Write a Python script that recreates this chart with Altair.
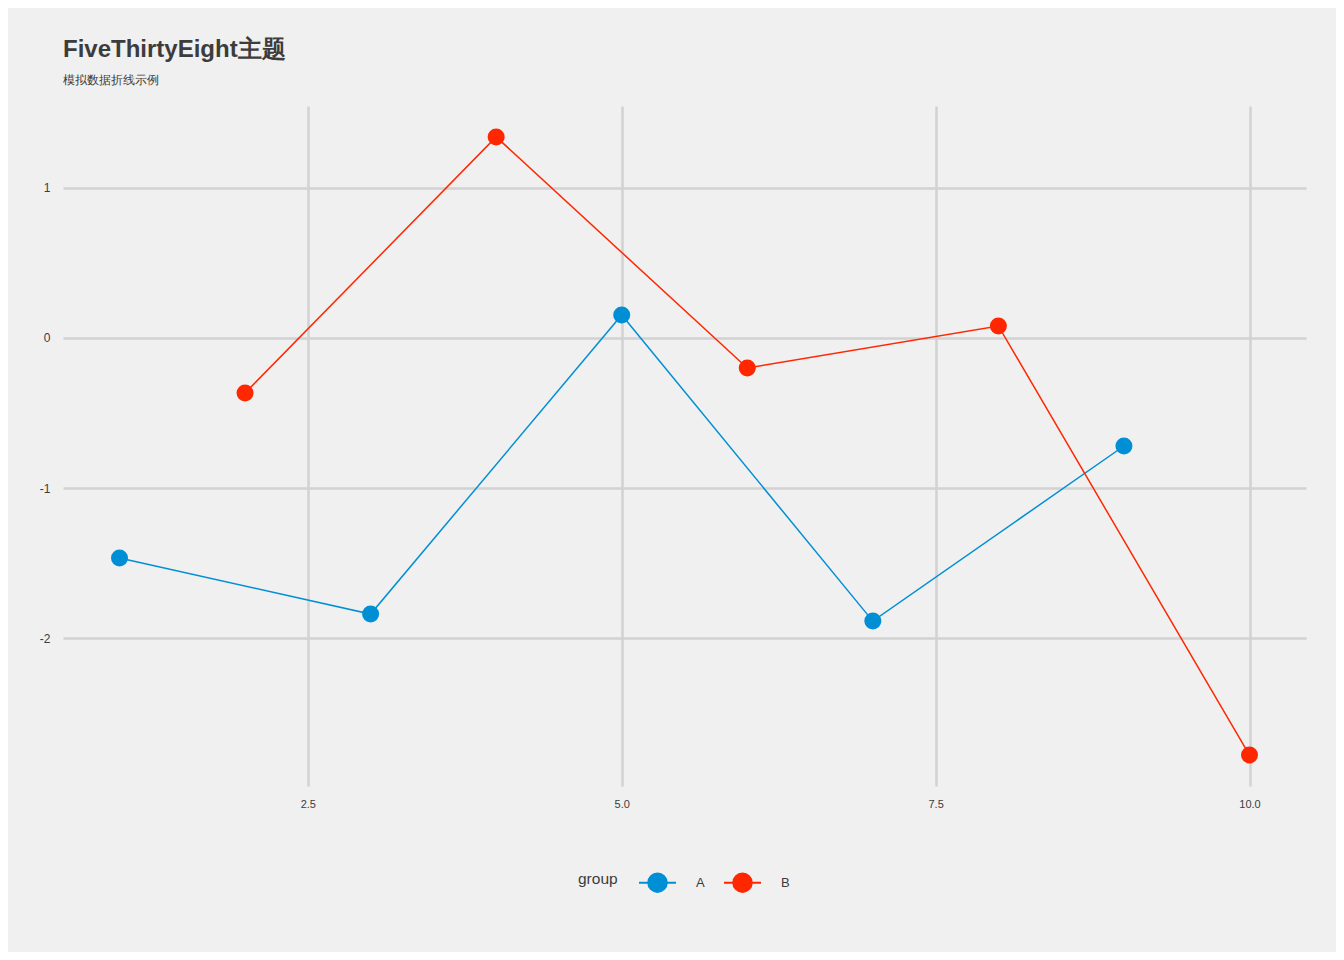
import altair as alt
import pandas as pd

x_a = [1, 3, 5, 7, 9]
y_a = [-1.467, -1.84, 0.153, -1.887, -0.72]
x_b = [2, 4, 6, 8, 10]
y_b = [-0.367, 1.34, -0.2, 0.08, -2.78]
groups = ["A", "B"]
colors = ["#008fd5", "#ff2700"]
x_ticks = [2.5, 5.0, 7.5, 10.0]
y_ticks = [-2, -1, 0, 1]

df = pd.DataFrame({
    "x": x_a + x_b,
    "value": y_a + y_b,
    "group": ["A"] * len(x_a) + ["B"] * len(x_b),
})

FONT = "Liberation Sans"
TXT = "#3c3c3c"

xenc = alt.X("x:Q", title=None,
             scale=alt.Scale(domain=[0.55, 10.45], nice=False, zero=False),
             axis=alt.Axis(values=x_ticks, format=".1f", labelPadding=12,
                           labelFontSize=11, labelColor=TXT, domain=False, ticks=False,
                           grid=True, gridColor="#d2d2d2", gridWidth=2.5))
yenc = alt.Y("value:Q", title=None,
             scale=alt.Scale(domain=[-2.986, 1.546], nice=False, zero=False),
             axis=alt.Axis(values=y_ticks, labelExpr="'' + datum.value", labelPadding=13,
                           labelFontSize=12, labelColor=TXT, domain=False, ticks=False,
                           grid=True, gridColor="#d2d2d2", gridWidth=2.5))

legend_path = ("M-0.5,0 A0.5,0.5 0 1,1 0.5,0 A0.5,0.5 0 1,1 -0.5,0 Z "
               "M-1,0 L1,0")

cenc = alt.Color("group:N", scale=alt.Scale(domain=groups, range=colors),
                 legend=alt.Legend(orient="none", legendX=515, legendY=757,
                                   direction="horizontal", titleOrient="left",
                                   titleAnchor="middle", titleBaseline="middle",
                                   titleFontSize=15.5, titleFontWeight="normal",
                                   titleColor=TXT, titlePadding=20,
                                   labelFontSize=13, labelColor=TXT, labelOffset=19,
                                   columnPadding=15,
                                   symbolType=legend_path, symbolSize=1369,
                                   symbolStrokeWidth=2, symbolFillColor=None))

base = alt.Chart(df)
lines = base.mark_line(strokeWidth=1.5).encode(x=xenc, y=yenc, color=cenc)
points = base.mark_circle(size=290, opacity=1).encode(x=xenc, y=yenc, color=cenc)

chart = alt.layer(lines, points).properties(
    width=1243, height=680,
    background="#f0f0f0",
    padding={"left": 55, "top": 98, "right": 30, "bottom": 166},
    autosize=alt.AutoSizeParams(type="none"),
    title=alt.TitleParams(text="FiveThirtyEight主题", subtitle="模拟数据折线示例",
                          anchor="start", frame="group", font=FONT, fontSize=24,
                          fontWeight="bold",
                          color=TXT, subtitleFont=FONT, subtitleFontSize=12,
                          subtitleColor=TXT, subtitlePadding=13, offset=20),
).configure(font=FONT).configure_view(stroke=None)

chart.save("out.html", embed_options={"renderer": "svg", "actions": False})
